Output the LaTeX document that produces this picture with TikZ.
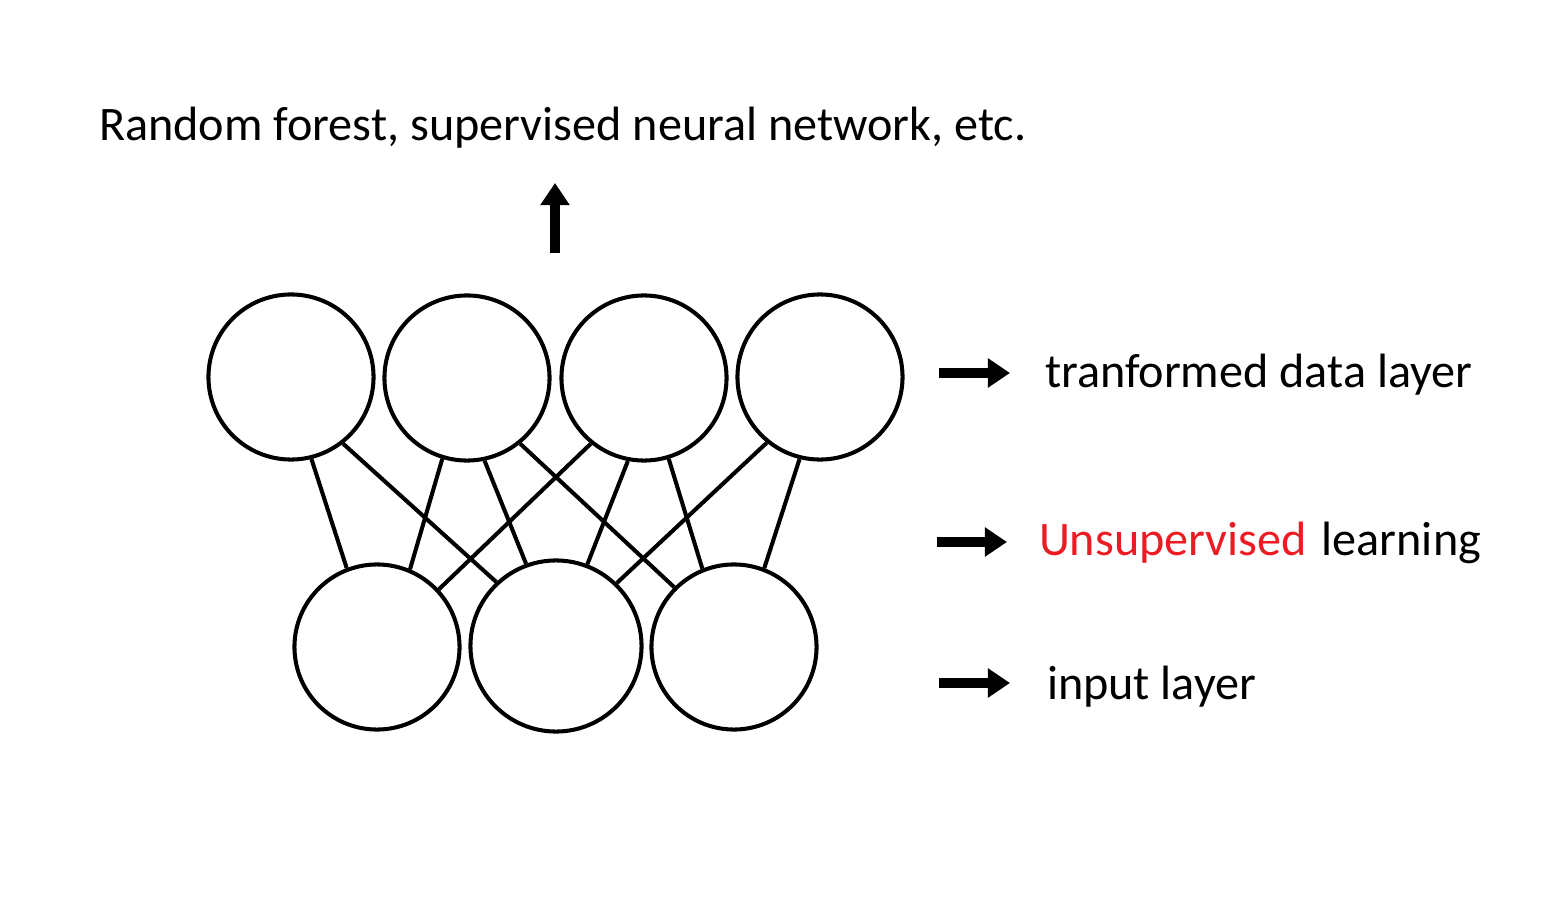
\documentclass[tikz,border=0pt]{standalone}
\usepackage{fontspec}
\setmainfont{Carlito}
\usetikzlibrary{arrows.meta}
\definecolor{unsupred}{RGB}{237,28,36}
\begin{document}
\begin{tikzpicture}[x=0.01cm, y=-0.01cm, line width=1.15pt,
  unit/.style={circle, draw, minimum size=1.65cm, inner sep=0pt},
  fatarrow/.style={line width=2.8pt, -{Triangle[length=6.3pt,width=8pt]}},
  caption/.style={anchor=base west, inner sep=0pt, font=\fontsize{13.7}{16}\selectfont}]
  % canvas
  \useasboundingbox (0,0) rectangle (1568,900);
  % transformed data layer
  \node[unit] (t1) at (291,377) {};
  \node[unit] (t2) at (467,378) {};
  \node[unit] (t3) at (644,378) {};
  \node[unit] (t4) at (820,377) {};
  % input layer
  \node[unit] (b1) at (377,647) {};
  \node[unit, minimum width=1.71cm] (b2) at (556,646) {};
  \node[unit] (b3) at (734,647) {};
  % connections
  \draw (t1.-76) -- (b1.111);
  \draw (t1.-52) -- (b2.133);
  \draw (t2.-107) -- (b1.67);
  \draw (t2.-78) -- (b2.110);
  \draw (t2.-51) -- (b3.135);
  \draw (t3.-129) -- (b1.43);
  \draw (t3.-101) -- (b2.69);
  \draw (t3.-73) -- (b3.112);
  \draw (t4.-129) -- (b2.46);
  \draw (t4.-104) -- (b3.69);
  % output, on top
  \coordinate (upfrom) at (555,253);
  \coordinate (upto) at (555,183);
  \draw[fatarrow] (upfrom) -- (upto);
  \node[caption] (output) at (97,140) {Random forest, supervised neural network, etc.};
  % layer labels on the right
  \coordinate (tfrom) at (939,373);
  \coordinate (tto) at (1010,373);
  \draw[fatarrow] (tfrom) -- (tto);
  \node[caption] (tlabel) at (1043,387) {tranformed data layer};
  \coordinate (ufrom) at (937,542);
  \coordinate (uto) at (1007,542);
  \draw[fatarrow] (ufrom) -- (uto);
  \node[caption] (ulabel) at (1037,555) {\textcolor{unsupred}{Unsupervised}\hspace{0.04cm} learning};
  \coordinate (ifrom) at (939,683);
  \coordinate (ito) at (1010,683);
  \draw[fatarrow] (ifrom) -- (ito);
  \node[caption] (ilabel) at (1045,699) {input layer};
\end{tikzpicture}
\end{document}
